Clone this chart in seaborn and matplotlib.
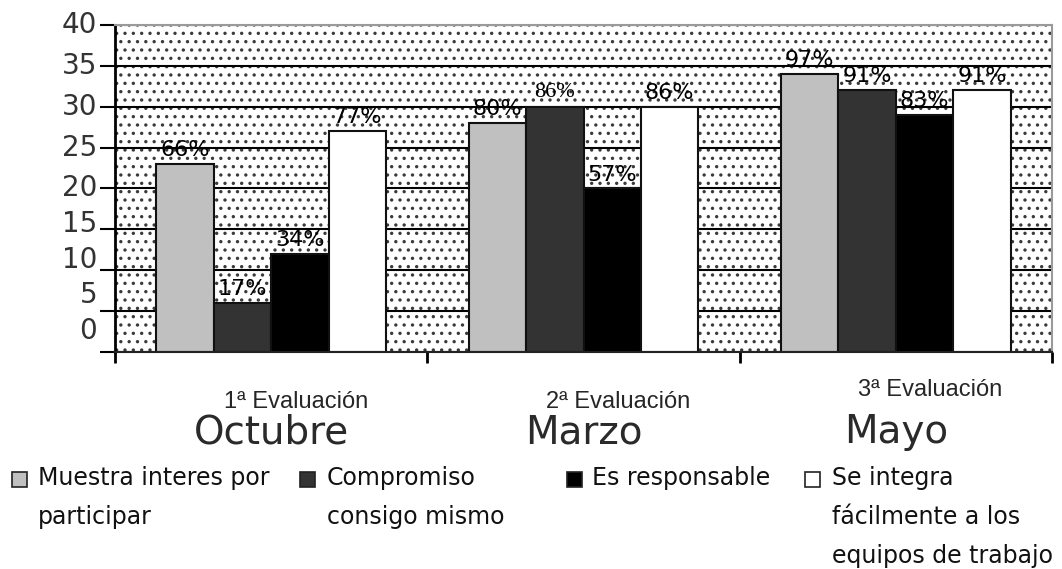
import matplotlib
matplotlib.use("Agg")
import matplotlib.pyplot as plt
import matplotlib.transforms as mtransforms
from matplotlib.patches import Rectangle
import seaborn as sns
import pandas as pd

sns.set_style("white")
plt.rcParams["font.family"] = ["DejaVu Sans"]
plt.rcParams["hatch.color"] = "#3a3a3a"
plt.rcParams["hatch.linewidth"] = 1.2

# data (number of students out of 35, with the percentage shown on the bar)
meses = ["Octubre", "Marzo", "Mayo"]
evaluaciones = ["1ª Evaluación", "2ª Evaluación", "3ª Evaluación"]
series = ["Muestra interes por\nparticipar",
          "Compromiso\nconsigo mismo",
          "Es responsable",
          "Se integra\nfácilmente a los\nequipos de trabajo"]
muestra = [23, 28, 34]
compromiso = [6, 30, 32]
responsable = [12, 20, 29]
integra = [27, 30, 32]
muestra_pct = ["66%", "80%", "97%"]
compromiso_pct = ["17%", "86%", "91%"]
responsable_pct = ["34%", "57%", "83%"]
integra_pct = ["77%", "86%", "91%"]
yticks = [0, 5, 10, 15, 20, 25, 30, 35, 40]

colores = ["#c0c0c0", "#333333", "#000000", "#ffffff"]

valores = [muestra, compromiso, responsable, integra]
etiquetas = [muestra_pct, compromiso_pct, responsable_pct, integra_pct]
rows = []
for s, vals in zip(series, valores):
    for m, v in zip(meses, vals):
        rows.append({"mes": m, "serie": s, "valor": v})
df = pd.DataFrame(rows)

fig = plt.figure(figsize=(10.62, 5.69), dpi=100)
ax = fig.add_axes([0.1083, 0.3814, 0.8823, 0.5747])

# dotted background
bg = Rectangle((0, 0), 1, 1, transform=ax.transAxes, facecolor="white",
               edgecolor="#3a3a3a", linewidth=0, hatch="..", zorder=0.1)
ax.add_patch(bg)

sns.barplot(data=df, x="mes", y="valor", hue="serie", order=meses,
            hue_order=series, palette=colores, saturation=1, width=0.735,
            edgecolor="#111111", linewidth=1.5, legend=False, ax=ax, zorder=2)

ax.set_xlim(-0.5, 2.5)
ax.set_ylim(0, 40)
ax.set_xlabel("")
ax.set_ylabel("")

# horizontal grid
ax.set_yticks(yticks)
ax.set_yticklabels([])
ax.yaxis.grid(True, color="black", linewidth=1.5)
ax.set_axisbelow(True)
ax.tick_params(axis="y", length=11, width=1.5, color="black", direction="out", left=True)

# y labels (drawn slightly off the gridlines like the original)
trans_y = mtransforms.blended_transform_factory(ax.transAxes, ax.transData)
for v in yticks:
    ax.text(-0.019, v + max(0, 20 - v) * 0.13, str(v), transform=trans_y,
            ha="right", va="center", fontsize=20, color="#333333")

# x axis: boundary ticks, month labels
ax.set_xticks([0, 1, 2])
ax.set_xticklabels(meses, fontsize=28, color="#2a2a2a")
ax.tick_params(axis="x", length=0, pad=44)
ax.set_xticks([-0.5, 0.5, 1.5, 2.5], minor=True)
ax.tick_params(axis="x", which="minor", length=8, width=2, color="black",
               direction="out", bottom=True)

trans_x = mtransforms.blended_transform_factory(ax.transData, ax.transAxes)
ev_y = [-0.153, -0.153, -0.116]
for i, ev in enumerate(evaluaciones):
    ax.text(i + 0.08 + 0.03 * (i > 0), ev_y[i], ev, transform=trans_x, ha="center",
            va="center", fontsize=17, family="Liberation Sans")

for side in ["top", "right"]:
    ax.spines[side].set_color("#9a9a9a")
    ax.spines[side].set_linewidth(1.5)
ax.spines["left"].set_color("black")
ax.spines["left"].set_linewidth(2)
ax.spines["bottom"].set_color("#222222")
ax.spines["bottom"].set_linewidth(1.5)

# value labels
for k, (cont, labs) in enumerate(zip(ax.containers, etiquetas)):
    for j, (bar, lab) in enumerate(zip(cont, labs)):
        fam = "Liberation Serif" if (k == 1 and j == 1) else "DejaVu Sans"
        ax.annotate(lab, (bar.get_x() + bar.get_width() / 2, bar.get_height()),
                    xytext=(0, 10), textcoords="offset points", ha="center",
                    va="center", fontsize=16, family=fam, color="black", zorder=5)

# legend drawn below, item by item
leg_x = [12, 300, 567, 805]
leg_text_x = [38, 327, 592, 832]
leg_y = 479
W, H = 1062, 569
for s, c, lx, tx in zip(series, colores, leg_x, leg_text_x):
    fig.add_artist(Rectangle((lx / W, 1 - (leg_y + 8) / H), 15 / W, 15 / H,
                             transform=fig.transFigure, facecolor=c,
                             edgecolor="#222222", linewidth=1.2))
    fig.text(tx / W, 1 - (leg_y - 13) / H, s, ha="left", va="top",
             fontsize=17, linespacing=1.78, color="#111111")

fig.savefig("out.png", dpi=100)
